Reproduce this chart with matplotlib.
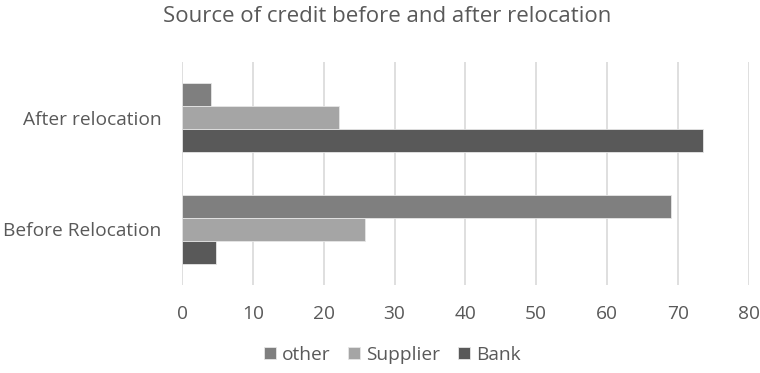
import matplotlib.pyplot as plt
import numpy as np

plt.rcParams['font.family'] = ['Open Sans', 'DejaVu Sans']

categories = ['Before Relocation', 'After relocation']
series = ['other', 'Supplier', 'Bank']
other = [69.0, 4.1]
supplier = [25.9, 22.2]
bank = [4.8, 73.5]
colors = ['#7f7f7f', '#a5a5a5', '#595959']
xticks = [0, 10, 20, 30, 40, 50, 60, 70, 80]

fig = plt.figure(figsize=(7.6, 3.73), dpi=100)
ax = fig.add_axes([0.2395, 0.2346, 0.7457, 0.6005])

y = np.arange(len(categories))
h = 0.205
values = [other, supplier, bank]
offsets = [h, 0, -h]
for vals, off, col, name in zip(values, offsets, colors, series):
    ax.barh(y + off, vals, height=h, color=col, edgecolor='#e6e6e6', linewidth=0.6, label=name, zorder=3)

ax.set_xlim(0, 80)
ax.set_ylim(-0.5, 1.5)
ax.set_xticks(xticks)
ax.set_yticks(y)
ax.set_yticklabels(categories, fontsize=13.4)
ax.grid(axis='x', color='#d9d9d9', linewidth=1.2, zorder=0)
for s in ax.spines.values():
    s.set_visible(False)
ax.tick_params(length=0, labelsize=13.8, colors='#595959')
ax.tick_params(axis='y', pad=15)
ax.tick_params(axis='x', pad=14)

fig.suptitle('Source of credit before and after relocation', x=0.51, y=0.985,
             fontsize=16, color='#595959')
ax.legend(loc='center', bbox_to_anchor=(0.371, -0.31), ncol=3, frameon=False,
          fontsize=13.8, labelcolor='#595959', handlelength=0.63, handleheight=0.63,
          handletextpad=0.3, columnspacing=0.95)

fig.savefig('out.png')
